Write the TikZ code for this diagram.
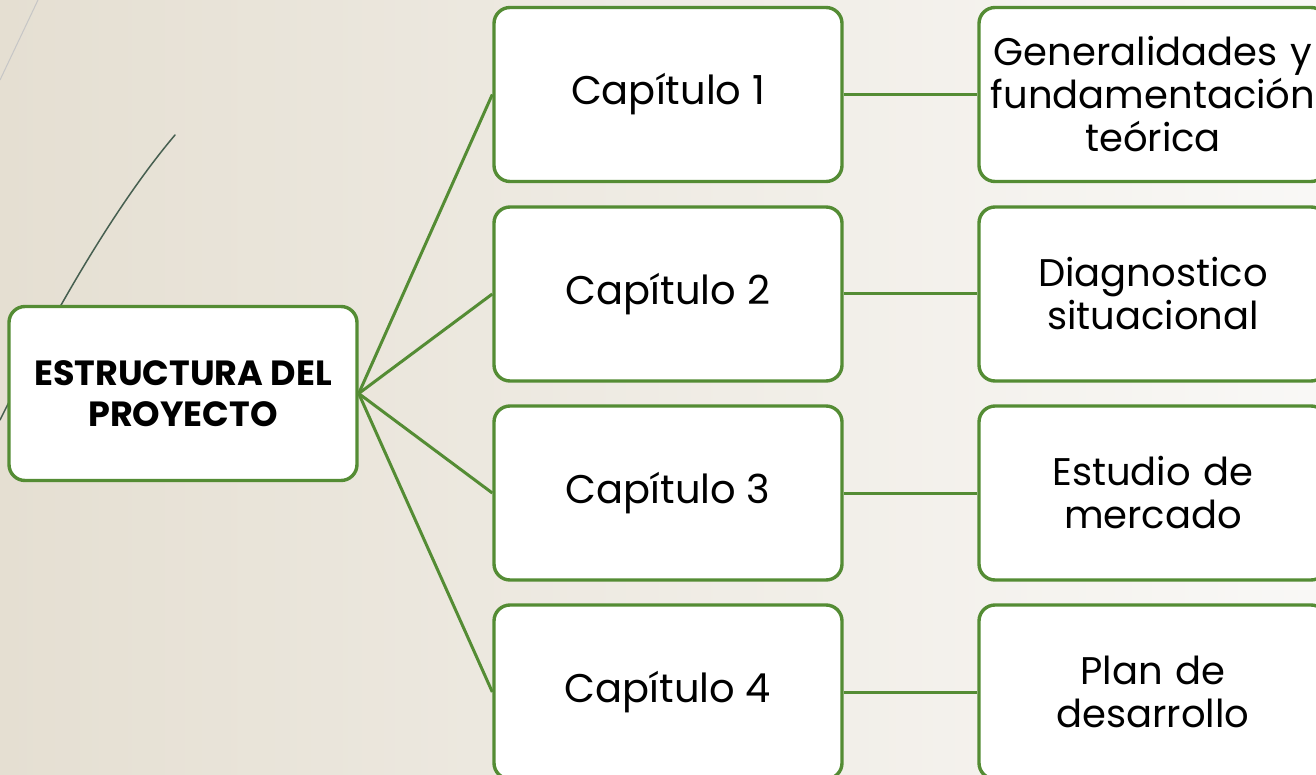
\documentclass[tikz,border=0pt]{standalone}
\usepackage{fontspec}
\setmainfont{Poppins}
\definecolor{grn}{RGB}{84,140,52}
\definecolor{bgL}{RGB}{229,223,210}
\definecolor{bgR}{RGB}{249,248,246}
\definecolor{stem}{RGB}{70,95,80}
\newcommand{\lowtxt}[1]{\raisebox{-4pt}{#1}}
\begin{document}
\begin{tikzpicture}[x=1pt,y=-1pt,
  box/.style={draw=grn, line width=3.4pt, rounded corners=16pt, fill=white,
    minimum width=348pt, minimum height=174pt, align=center, inner sep=0pt},
  chap/.style={box, font=\fontsize{40}{46}\selectfont},
  leaf/.style={box, font=\fontsize{38.5}{43}\selectfont, text width=345pt},
  rootbox/.style={box, font=\fontsize{35}{41}\selectfont\bfseries},
  link/.style={draw=grn, line width=3pt}]
\useasboundingbox (0,0) rectangle (1316,775);
\clip (0,0) rectangle (1316,775);
\shade[left color=bgL, right color=bgR] (0,0) rectangle (1316,775);
% decorative strokes
\draw[color=gray!45, line width=1pt] (38,0) -- (0,80);
\draw[color=stem, line width=1.5pt, line cap=round] (175,135) .. controls (120,200) and (60,300) .. (0,420);
% nodes
\node[rootbox] (root) at (183,393.5) {ESTRUCTURA DEL\\PROYECTO};
\node[chap] (c1) at (668,94.5) {\lowtxt{Capítulo 1}};
\node[chap] (c2) at (668,294) {\lowtxt{Capítulo 2}};
\node[chap] (c3) at (668,493) {\lowtxt{Capítulo 3}};
\node[chap] (c4) at (668,692) {\lowtxt{Capítulo 4}};
\node[leaf] (l1) at (1153,94.5) {Generalidades y\\fundamentación\\teórica};
\node[leaf] (l2) at (1153,294) {Diagnostico\\situacional};
\node[leaf] (l3) at (1153,493) {Estudio de\\mercado};
\node[leaf] (l4) at (1153,692) {Plan de\\desarrollo};
% connectors
\foreach \i in {1,2,3,4}{
  \draw[link] (root.east) -- (c\i.west);
  \draw[link] (c\i.east) -- (l\i.west);
}
\end{tikzpicture}
\end{document}
